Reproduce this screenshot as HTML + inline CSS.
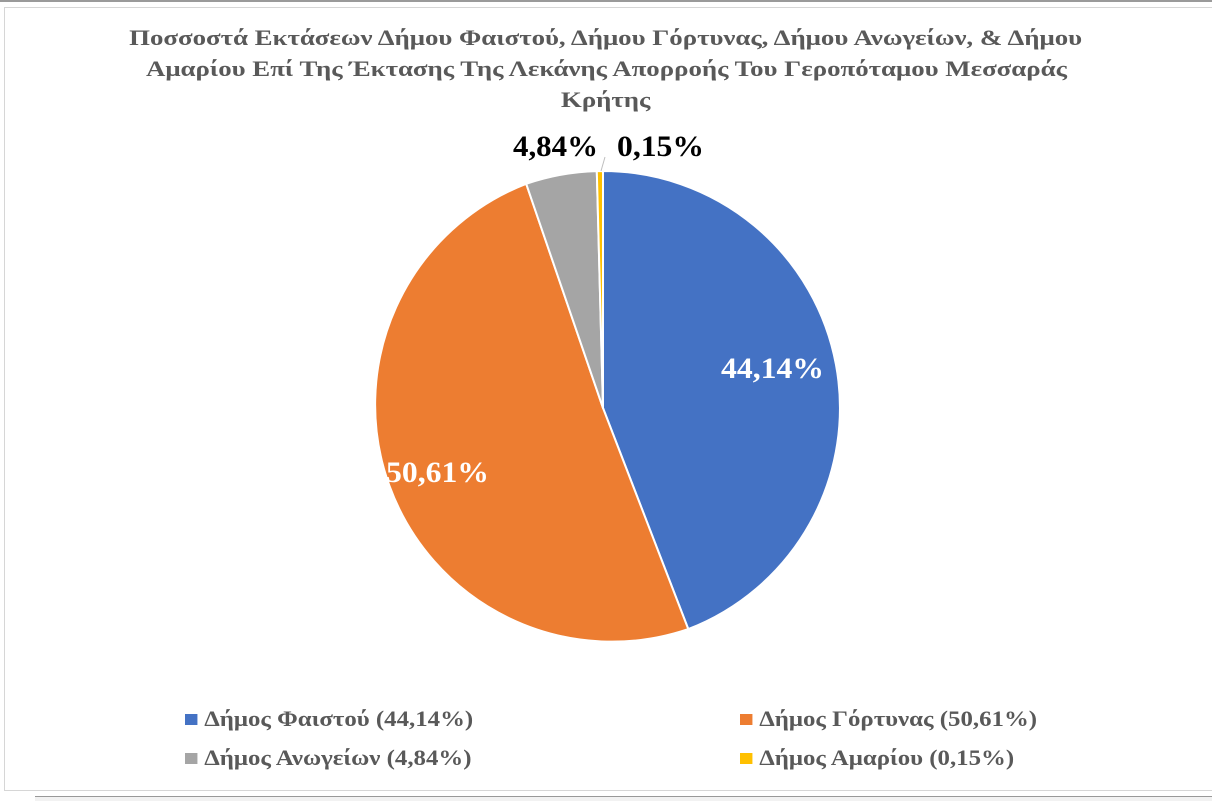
<!DOCTYPE html>
<html><head><meta charset="utf-8"><style>
html,body{margin:0;padding:0;background:#fff;}
body{width:1212px;height:800px;position:relative;overflow:hidden;font-family:"Liberation Serif","DejaVu Serif",serif;}
.t{position:absolute;left:0;width:1212px;text-align:center;color:#595959;font-weight:bold;font-size:22px;line-height:31px;top:22px;}
.t span{display:inline-block;transform:scaleX(1.22);transform-origin:center;}
.lg{position:absolute;font-size:22px;font-weight:bold;color:#595959;white-space:nowrap;transform:scaleX(1.13);transform-origin:left center;}
.lg i{display:inline-block;width:11px;height:11px;margin-right:6px;vertical-align:1px;}
</style></head><body>
<div style="position:absolute;left:0;top:0;width:1212px;height:2px;background:#9a9a9a"></div>
<div style="position:absolute;left:4px;top:7px;width:1212px;height:782px;border:1px solid #d6d6d6;"></div>
<div style="position:absolute;left:35px;top:796px;width:1180px;height:4px;border-top:1px solid #999;background:#f2f2f2"></div>
<div class="t"><span>Ποσσοστά Εκτάσεων Δήμου Φαιστού, Δήμου Γόρτυνας, Δήμου Ανωγείων, &amp; Δήμου</span><br><span>Αμαρίου Επί Της Έκτασης Της Λεκάνης Απορροής Του Γεροπόταμου Μεσσαράς</span><br><span>Κρήτης</span></div>
<svg width="1212" height="800" style="position:absolute;left:0;top:0">
<g stroke="#fff" stroke-width="2" stroke-linejoin="round">
<path d="M603,408 L603,171 A237,237 0 0 1 688.3,629.1 Z" fill="#4472c4"/>
<path d="M603,408 L688.3,629.1 A237,237 0 0 1 526.2,183.8 Z" fill="#ed7d31"/>
<path d="M603,408 L526.2,183.8 A237,237 0 0 1 596.8,171.1 Z" fill="#a5a5a5"/>
<path d="M603,408 L596.8,171.1 A237,237 0 0 1 603,171 Z" fill="#ffc000"/>
</g>
<line x1="601" y1="171" x2="605" y2="157" stroke="#bfbfbf" stroke-width="1"/>
<g font-family="Liberation Serif, DejaVu Serif, serif" font-weight="bold" font-size="30">
<text x="721" y="378" textLength="103" lengthAdjust="spacingAndGlyphs" fill="#fff">44,14%</text>
<text x="386" y="482" textLength="103" lengthAdjust="spacingAndGlyphs" fill="#fff">50,61%</text>
<text x="513" y="156" textLength="85" lengthAdjust="spacingAndGlyphs" fill="#000">4,84%</text>
<text x="617" y="156" textLength="87" lengthAdjust="spacingAndGlyphs" fill="#000">0,15%</text>
</g>
</svg>
<div class="lg" style="left:185px;top:706px"><i style="background:#4472c4"></i>Δήμος Φαιστού (44,14%)</div>
<div class="lg" style="left:740px;top:706px"><i style="background:#ed7d31"></i>Δήμος Γόρτυνας (50,61%)</div>
<div class="lg" style="left:185px;top:745px"><i style="background:#a5a5a5"></i>Δήμος Ανωγείων (4,84%)</div>
<div class="lg" style="left:740px;top:745px"><i style="background:#ffc000"></i>Δήμος Αμαρίου (0,15%)</div>
</body></html>
